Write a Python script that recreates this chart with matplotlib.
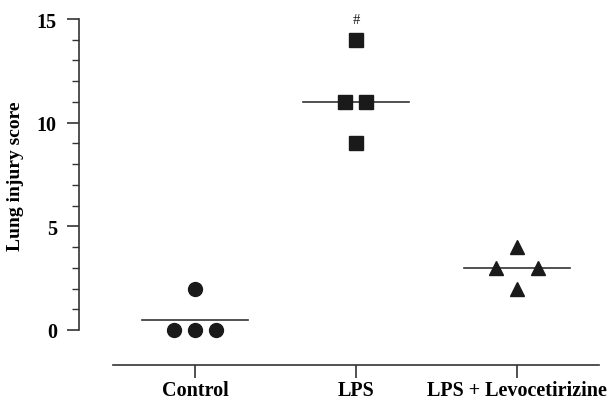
import matplotlib
matplotlib.use("Agg")
import matplotlib.pyplot as plt
from matplotlib.ticker import FixedLocator

categories = ["Control", "LPS", "LPS + Levocetirizine"]
control_vals = [2, 0, 0, 0]
lps_vals = [14, 11, 11, 9]
levo_vals = [4, 3, 3, 2]
means = [0.5, 11, 3]
yticks = [0, 5, 10, 15]
yminor = [1, 2, 3, 4, 6, 7, 8, 9, 11, 12, 13, 14]

# horizontal jitter offsets (layout)
control_dx = [0, -0.13, 0, 0.13]
lps_dx = [0, -0.065, 0.065, 0]
levo_dx = [0, -0.13, 0.13, 0]

plt.rcParams['font.family'] = ['Liberation Serif', 'DejaVu Serif']
plt.rcParams['font.weight'] = 'bold'

fig = plt.figure(figsize=(6.11, 4.06), dpi=100)
ax = fig.add_axes([79/611, 40/406, 526/611, 346/406])

col = '#1a1a1a'
groups = [(control_vals, control_dx, 'o', 10), (lps_vals, lps_dx, 's', 10), (levo_vals, levo_dx, '^', 10.5)]
for i, (vals, dx, m, ms) in enumerate(groups):
    xs = [i + d for d in dx]
    ax.plot(xs, vals, linestyle='none', marker=m, markersize=ms, color=col, zorder=3)
    ax.plot([i - 0.33, i + 0.33], [means[i], means[i]], color='#333333', lw=1.2, zorder=2)

ax.text(1, 15.0, '#', ha='center', va='center', fontsize=10.5, fontweight='normal', color=col)

ax.set_xlim(-0.72, 2.547)
ax.set_ylim(-1.69, 15)
ax.set_xticks([0, 1, 2])
ax.set_xticklabels(categories, fontsize=14.5, fontweight='bold')
ax.set_yticks(yticks)
ax.set_yticklabels([str(t) for t in yticks], fontsize=14.5, fontweight='bold')
ax.yaxis.set_minor_locator(FixedLocator(yminor))
ax.tick_params(axis='y', which='major', length=9, width=1.2, color='#333333', pad=7)
ax.tick_params(axis='y', which='minor', length=5, width=1.0, color='#333333')
ax.tick_params(axis='x', which='major', length=9, width=1.2, color='#333333', pad=2)

for s in ['top', 'right']:
    ax.spines[s].set_visible(False)
ax.spines['left'].set_bounds(0, 15)
ax.spines['bottom'].set_bounds(-0.51, 2.51)
for s in ['left', 'bottom']:
    ax.spines[s].set_linewidth(1.2)
    ax.spines[s].set_color('#333333')

ax.set_ylabel('Lung injury score', fontsize=14, fontweight='bold')
ax.yaxis.set_label_coords(-0.1046, 0.549)

fig.savefig('out.png', dpi=100)
